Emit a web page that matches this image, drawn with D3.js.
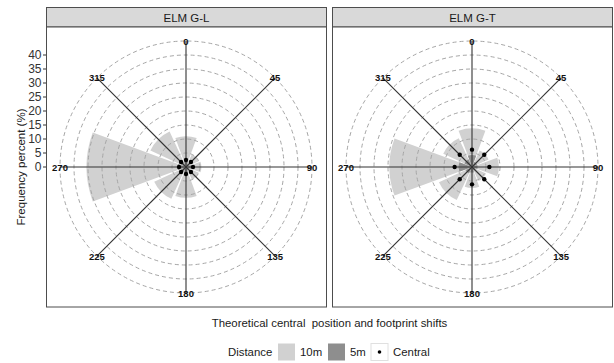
<!DOCTYPE html>
<html>
<head>
<meta charset="utf-8">
<script src="https://cdn.jsdelivr.net/npm/d3@7"></script>
<style>
  html, body { margin: 0; padding: 0; background: #fff; }
  svg { display: block; font-family: "Liberation Sans", Arial, sans-serif; }
</style>
</head>
<body>
<svg id="chart" width="614" height="363"></svg>
<script>
// Compass directions (degrees) used as bins
const directions = [0, 45, 90, 135, 180, 225, 270, 315];
const panels = ["ELM G-L", "ELM G-T"];

// Frequency percent per direction, 10 m footprint shift
const glShift10 = [11, 5, 5.5, 5, 11, 12.5, 35.5, 14];
const gtShift10 = [13.8, 6.5, 9.6, 5.5, 7.5, 13, 29.5, 11.3];
// Frequency percent per direction, 5 m footprint shift
const glShift5 = [2, 1.5, 2, 1.5, 2, 2, 3, 2];
const gtShift5 = [4.3, 2, 2, 1.5, 2, 2.5, 4.8, 3];
// Theoretical central positions
const glCentral = [2.5, 2.5, 2.5, 2.5, 2.5, 2.5, 2.5, 2.5];
const gtCentral = [6.2, 6.2, 6.2, 6.2, 6.2, 6.2, 6.2, 6.2];

const yTicks = [0, 5, 10, 15, 20, 25, 30, 35, 40];
const gridRings = [5, 10, 15, 20, 25, 30, 35, 40, 45];
const labelRadius = 45;

const panelData = [
  { name: panels[0], s10: glShift10, s5: glShift5, central: glCentral },
  { name: panels[1], s10: gtShift10, s5: gtShift5, central: gtCentral }
];

const svg = d3.select("#chart");
const colLight = "#d1d1d1", colDark = "#8e8e8e";

const panelW = 281, panelGap = 5, panelX0 = 46;
const stripTop = 7.5, stripH = 19.5, panelTop = 27, panelBottom = 307;
const cy = 167;

const r = d3.scaleLinear().domain([0, 45]).range([0, 126]);
const toRad = d3.scaleLinear().domain([0, 360]).range([0, 2 * Math.PI]);
const halfWidth = 45 * 0.9 / 2;

panelData.forEach((p, i) => {
  const x0 = panelX0 + i * (panelW + panelGap);
  const cx = x0 + 140;

  // strip
  svg.append("rect")
    .attr("x", x0 + 0.5).attr("y", stripTop)
    .attr("width", panelW - 1).attr("height", stripH)
    .attr("fill", "#d9d9d9").attr("stroke", "#4d4d4d").attr("stroke-width", 1);
  svg.append("text")
    .attr("x", x0 + panelW / 2).attr("y", stripTop + stripH / 2 + 0.5)
    .attr("text-anchor", "middle").attr("dominant-baseline", "central")
    .attr("font-size", 11.5).attr("fill", "#1a1a1a")
    .text(p.name);

  // panel background
  svg.append("rect")
    .attr("x", x0 + 0.5).attr("y", panelTop)
    .attr("width", panelW - 1).attr("height", panelBottom - panelTop)
    .attr("fill", "#fff").attr("stroke", "#4d4d4d").attr("stroke-width", 1);

  const g = svg.append("g").attr("transform", `translate(${cx},${cy})`);

  const wedge = (v, d) => d3.arc()
    .innerRadius(0).outerRadius(r(v))
    .startAngle(toRad(d - halfWidth)).endAngle(toRad(d + halfWidth))();

  g.selectAll("path.s10").data(directions).join("path")
    .attr("class", "s10")
    .attr("d", (d, k) => wedge(p.s10[k], d))
    .attr("fill", colLight);

  g.selectAll("path.s5").data(directions).join("path")
    .attr("class", "s5")
    .attr("d", (d, k) => wedge(p.s5[k], d))
    .attr("fill", colDark);

  // dashed rings
  g.selectAll("circle.ring").data(gridRings).join("circle")
    .attr("class", "ring")
    .attr("r", d => r(d))
    .attr("fill", "none").attr("stroke", "#a6a6a6")
    .attr("stroke-width", 1).attr("stroke-dasharray", "4,3");

  // direction spokes
  g.selectAll("line.spoke").data(directions).join("line")
    .attr("class", "spoke")
    .attr("x1", 0).attr("y1", 0)
    .attr("x2", d => r(labelRadius) * Math.sin(toRad(d)))
    .attr("y2", d => -r(labelRadius) * Math.cos(toRad(d)))
    .attr("stroke", "#333").attr("stroke-width", 1.1);

  // central positions
  g.selectAll("circle.central").data(directions).join("circle")
    .attr("class", "central")
    .attr("cx", (d, k) => r(p.central[k]) * Math.sin(toRad(d)))
    .attr("cy", (d, k) => -r(p.central[k]) * Math.cos(toRad(d)))
    .attr("r", 2.2).attr("fill", "#000");

  // direction labels
  g.selectAll("text.dir").data(directions).join("text")
    .attr("class", "dir")
    .attr("x", d => r(labelRadius) * Math.sin(toRad(d)))
    .attr("y", d => -r(labelRadius) * Math.cos(toRad(d)))
    .attr("text-anchor", "middle").attr("dominant-baseline", "central")
    .attr("font-size", 9.5).attr("font-weight", "bold").attr("fill", "#111")
    .text(d => d);

  // y axis on the left panel
  if (i === 0) {
    const yAxis = svg.append("g");
    const yPos = v => cy - r(v);
    yAxis.selectAll("line").data(yTicks).join("line")
      .attr("x1", x0 - 3).attr("x2", x0)
      .attr("y1", yPos).attr("y2", yPos)
      .attr("stroke", "#333");
    yAxis.selectAll("text").data(yTicks).join("text")
      .attr("x", x0 - 4.5).attr("y", yPos)
      .attr("text-anchor", "end").attr("dominant-baseline", "central")
      .attr("font-size", 12).attr("fill", "#333")
      .text(d => d);
  }
});

// axis titles
svg.append("text")
  .attr("transform", `translate(21,${(panelTop + panelBottom) / 2}) rotate(-90)`)
  .attr("text-anchor", "middle").attr("dominant-baseline", "central")
  .attr("font-size", 11.5).attr("fill", "#1a1a1a")
  .text("Frequency percent (%)");

svg.append("text")
  .attr("x", (panelX0 + panelX0 + 2 * panelW + panelGap) / 2).attr("y", 323)
  .attr("text-anchor", "middle").attr("dominant-baseline", "central")
  .attr("font-size", 11.4).attr("fill", "#1a1a1a")
  .style("white-space", "pre")
  .text("Theoretical central  position and footprint shifts");

// legend
const legend = svg.append("g").attr("transform", "translate(0,352)");
legend.append("text").attr("x", 228).attr("y", 0)
  .attr("dominant-baseline", "central").attr("font-size", 11.4).attr("fill", "#1a1a1a")
  .text("Distance");
const legendItems = [
  { label: "10m", fill: colLight, x: 278, dot: false },
  { label: "5m", fill: colDark, x: 328, dot: false },
  { label: "Central", fill: "#fff", x: 371, dot: true }
];
legendItems.forEach(it => {
  legend.append("rect").attr("x", it.x).attr("y", -8.5)
    .attr("width", 17).attr("height", 17)
    .attr("fill", it.fill).attr("stroke", it.dot ? "#e0e0e0" : "none");
  if (it.dot) {
    legend.append("circle").attr("cx", it.x + 8.5).attr("cy", 0)
      .attr("r", 1.8).attr("fill", "#000");
  }
  legend.append("text").attr("x", it.x + 22).attr("y", 0)
    .attr("dominant-baseline", "central").attr("font-size", 11.4).attr("fill", "#1a1a1a")
    .text(it.label);
});
</script>
</body>
</html>
